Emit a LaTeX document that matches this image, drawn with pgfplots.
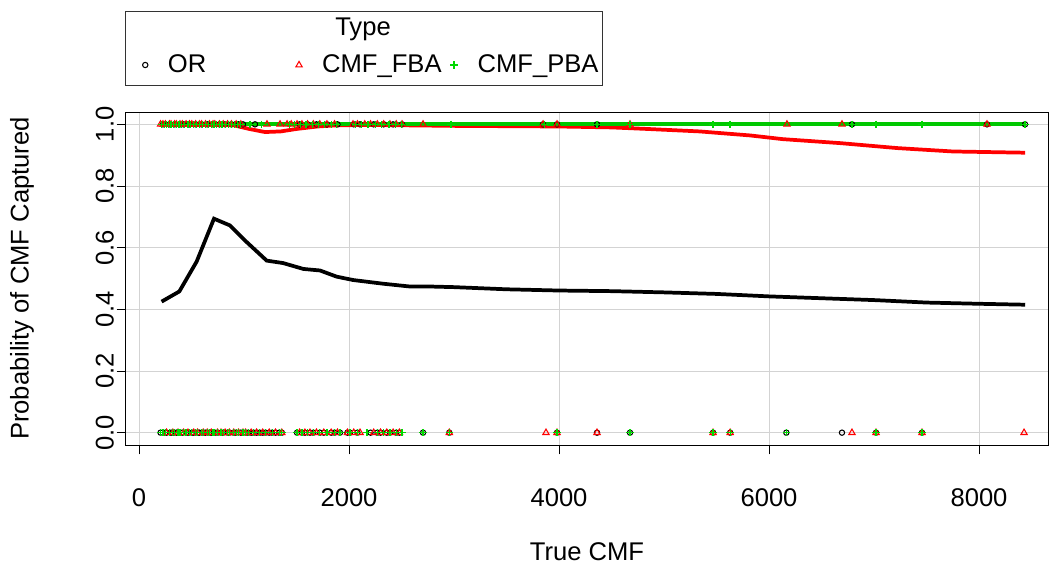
\documentclass[border=0pt]{standalone}
\usepackage{pgfplots}
\pgfplotsset{compat=1.18}
\usepackage{fontspec}
\setmainfont{Liberation Sans}
\definecolor{grnline}{HTML}{00C800}
\definecolor{grnmark}{HTML}{00D800}
\definecolor{gridgray}{HTML}{D3D3D3}
\newcommand{\rfont}{\fontsize{19.2}{23}\selectfont}

\begin{document}
\begin{tikzpicture}
\path[use as bounding box] (-94.5pt,-92.25pt) rectangle (693pt,333.75pt);
\begin{axis}[
  at={(0,0)}, anchor=south west,
  scale only axis, width=691.5pt, height=249.75pt,
  xmin=-124, xmax=8657, ymin=-0.04, ymax=1.04,
  axis line style={black, line width=0.75pt},
  xtick={0,2000,4000,6000,8000},
  ytick={0,0.2,0.4,0.6,0.8,1.0},
  xtick pos=left, ytick pos=left,
  tick align=outside, major tick length=7pt,
  tick style={black, line width=0.75pt},
  grid=major, major grid style={gridgray, line width=0.75pt},
  scaled ticks=false,
  /pgf/number format/assume math mode=true,
  xticklabel shift=22.5pt, yticklabel shift=-1.5pt,
  xticklabel style={font=\rfont, /pgf/number format/1000 sep={}},
  yticklabel style={font=\rfont, rotate=90, anchor=south,
    /pgf/number format/.cd, fixed, fixed zerofill, precision=1},
  xlabel={True CMF}, ylabel={Probability of CMF Captured},
  xlabel style={font=\rfont, at={(axis description cs:0.5,-0.3213)}, anchor=center},
  ylabel style={font=\rfont, at={(axis description cs:-0.1128,0.5)}, anchor=center},
  legend columns=3, legend cell align=left,
  legend image code/.code={\draw[mark repeat=2,mark phase=2,#1] plot coordinates {(0pt,0pt) (5pt,0pt) (10pt,0pt)};},
  legend style={at={(axis description cs:0,1)}, anchor=west, xshift=12.25pt, yshift=35.25pt,
    draw=none, fill=none, inner xsep=0pt, inner ysep=0pt, font=\rfont,
    /tikz/every odd column/.append style={column sep=13pt},
    /tikz/every even column/.append style={column sep=0pt}},
]
% OR observations (captured = 1, not captured = 0)
\addplot[only marks, mark=o, mark size=2pt, black, mark options={line width=0.8pt}] coordinates {
 (228,1) (290,1) (340,1) (390,1) (425,1) (480,1) (540,1) (596,1) (650,1) (705,1)
 (766,1) (820,1) (880,1) (948,1) (990,1) (1105,1) (1530,1) (1605,1) (1690,1) (1790,1)
 (1890,1) (2045,1) (2105,1) (2235,1) (2330,1) (2420,1) (2505,1) (3848,1) (3981,1) (4362,1)
 (6790,1) (8076,1) (8438,1)
 (205,0) (251,0) (262,0) (305,0) (322,0) (356,0) (371,0) (412,0) (448,0) (466,0)
 (503,0) (521,0) (558,0) (575,0) (612,0) (633,0) (671,0) (688,0) (722,0) (748,0)
 (781,0) (802,0) (843,0) (861,0) (902,0) (925,0) (970,0) (1015,0) (1040,0) (1068,0)
 (1092,0) (1120,0) (1150,0) (1178,0) (1205,0) (1240,0) (1268,0) (1300,0) (1335,0) (1360,0)
 (1505,0) (1552,0) (1580,0) (1628,0) (1660,0) (1722,0) (1760,0) (1830,0) (1862,0) (1914,0)
 (1985,0) (2010,0) (2080,0) (2205,0) (2270,0) (2300,0) (2360,0) (2390,0) (2450,0) (2480,0)
 (2705,0) (2955,0) (3981,0) (4362,0) (4676,0) (5467,0) (5630,0) (6165,0) (6695,0) (7019,0)
 (7457,0)
};
\addlegendentry{\makebox[94pt][l]{OR}}
% CMF_FBA observations
\addplot[only marks, mark=triangle, mark size=2.7pt, red, mark options={line width=0.8pt}] coordinates {
 (205,1) (228,1) (251,1) (290,1) (305,1) (340,1) (356,1) (390,1) (412,1) (448,1)
 (480,1) (503,1) (540,1) (575,1) (596,1) (633,1) (671,1) (705,1) (722,1) (766,1)
 (802,1) (843,1) (880,1) (925,1) (970,1) (1219,1) (1343,1) (1410,1) (1450,1) (1505,1)
 (1552,1) (1605,1) (1660,1) (1722,1) (1790,1) (1862,1) (2038,1) (2080,1) (2150,1) (2205,1)
 (2270,1) (2330,1) (2390,1) (2450,1) (2505,1) (2705,1) (3848,1) (3981,1) (4676,1) (6171,1)
 (6695,1) (8076,1)
 (262,0) (322,0) (371,0) (425,0) (466,0) (521,0) (558,0) (612,0) (650,0) (688,0)
 (748,0) (781,0) (820,0) (861,0) (902,0) (948,0) (990,0) (1015,0) (1068,0) (1120,0)
 (1178,0) (1240,0) (1300,0) (1360,0) (1530,0) (1580,0) (1628,0) (1690,0) (1760,0) (1830,0)
 (1890,0) (1985,0) (2045,0) (2105,0) (2235,0) (2300,0) (2360,0) (2420,0) (2480,0) (2955,0)
 (3876,0) (3981,0) (4362,0) (5467,0) (5630,0) (6790,0) (7019,0) (7457,0) (8429,0)
};
\addlegendentry{\makebox[94pt][l]{CMF\_FBA}}
% CMF_PBA observations
\addplot[only marks, mark=+, mark size=2.8pt, grnmark, mark options={line width=0.9pt}] coordinates {
 (215,1) (240,1) (262,1) (282,1) (305,1) (330,1) (356,1) (380,1) (404,1) (436,1)
 (466,1) (490,1) (521,1) (548,1) (575,1) (605,1) (633,1) (660,1) (688,1) (714,1)
 (740,1) (766,1) (790,1) (820,1) (850,1) (880,1) (910,1) (940,1) (970,1) (1057,1)
 (1170,1) (1430,1) (1480,1) (1540,1) (1590,1) (1650,1) (1710,1) (1770,1) (1830,1) (1880,1)
 (2060,1) (2120,1) (2180,1) (2250,1) (2310,1) (2380,1) (2440,1) (2500,1) (2971,1) (3860,1)
 (4362,1) (4676,1) (5467,1) (5629,1) (6790,1) (7019,1) (7457,1) (8438,1)
 (205,0) (228,0) (251,0) (290,0) (322,0) (340,0) (371,0) (390,0) (425,0) (448,0)
 (480,0) (503,0) (540,0) (558,0) (596,0) (612,0) (650,0) (671,0) (705,0) (722,0)
 (748,0) (781,0) (802,0) (843,0) (861,0) (902,0) (925,0) (948,0) (990,0) (1015,0)
 (1040,0) (1092,0) (1150,0) (1205,0) (1268,0) (1335,0) (1360,0) (1505,0) (1552,0) (1605,0)
 (1660,0) (1722,0) (1790,0) (1862,0) (1914,0) (2010,0) (2080,0) (2172,0) (2270,0) (2330,0)
 (2390,0) (2450,0) (2505,0) (2705,0) (2955,0) (3981,0) (4676,0) (5467,0) (5630,0) (6165,0)
 (7019,0) (7457,0)
};
\addlegendentry{CMF\_PBA}
% smoothed capture probabilities
\addplot[black, line width=2.8pt, forget plot] coordinates {
 (215,0.425) (384,0.458) (549,0.555) (714,0.694) (867,0.672) (1010,0.623) (1216,0.558)
 (1373,0.550) (1565,0.531) (1724,0.526) (1882,0.506) (2040,0.495) (2327,0.483) (2580,0.474)
 (2771,0.474) (3000,0.472) (3500,0.465) (4000,0.461) (4500,0.459) (5000,0.455) (5500,0.450)
 (6000,0.442) (6500,0.436) (7000,0.430) (7500,0.422) (8000,0.418) (8440,0.415)
};
\addplot[red, line width=2.8pt, forget plot] coordinates {
 (215,1.0) (600,1.0) (900,0.997) (1050,0.985) (1200,0.975) (1350,0.977) (1500,0.985)
 (1700,0.993) (1900,0.997) (2200,0.998) (3000,0.995) (4000,0.993) (4500,0.990) (4840,0.985)
 (5090,0.981) (5340,0.977) (5560,0.971) (5820,0.964) (6130,0.952) (6680,0.939) (7220,0.923)
 (7750,0.912) (8440,0.908)
};
\addplot[grnline, line width=2.8pt, forget plot] coordinates {
 (215,1.0) (1000,1.0) (2000,1.0) (4000,1.0) (6000,1.0) (8440,1.0)
};
\end{axis}
% legend frame and title
\draw[black!80, line width=0.75pt] (0,269.25pt) rectangle (357pt,324.75pt);
\node[font=\rfont] at (177.75pt,312pt) {Type};
\end{tikzpicture}
\end{document}
